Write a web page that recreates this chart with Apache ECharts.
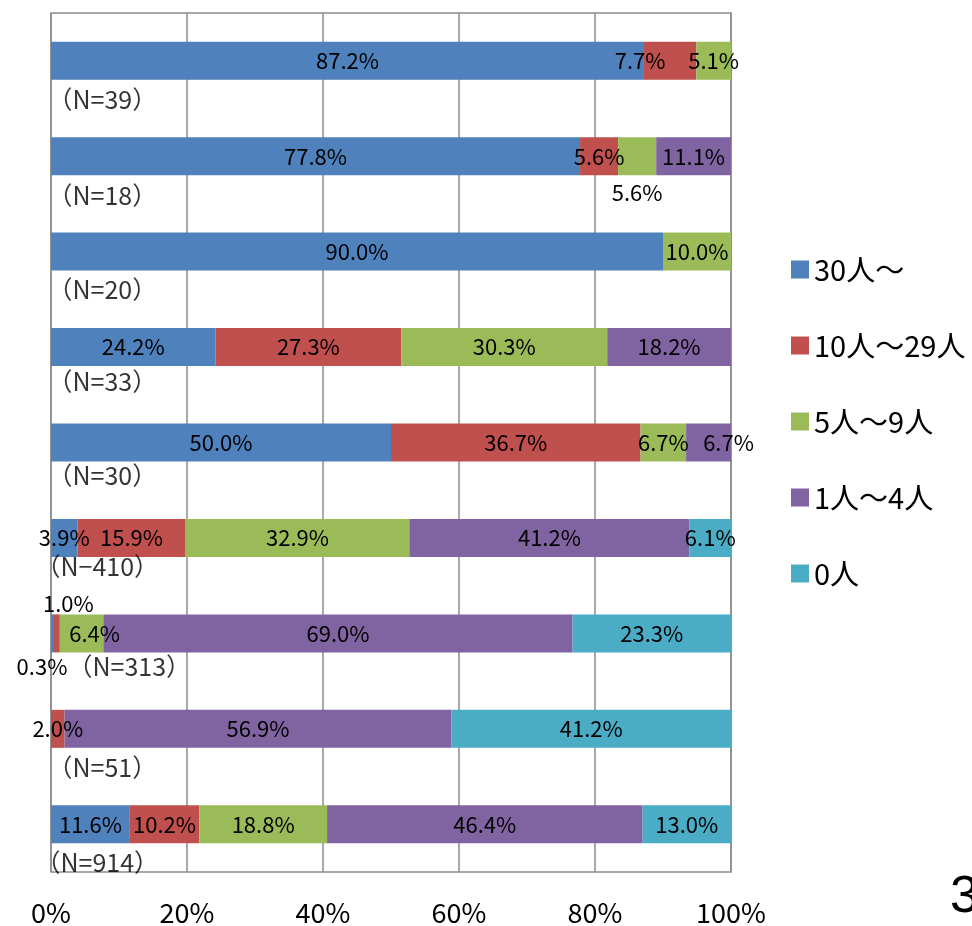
<!DOCTYPE html>
<html>
<head>
<meta charset="utf-8">
<script src="https://cdn.jsdelivr.net/npm/echarts@6/dist/echarts.min.js"></script>
<style>html,body{margin:0;padding:0;background:#fff;}#c{width:972px;height:926px;}</style>
</head>
<body>
<div id="c"></div>
<script>
// ---- data ----
const categories = ['（N=39）','（N=18）','（N=20）','（N=33）','（N=30）','（N−410）','（N=313）','（N=51）','（N=914）'];
const seriesNames = ['30人～','10人～29人','5人～9人','1人～4人','0人'];
const v30   = [87.2, 77.8, 90.0, 24.2, 50.0, 3.9, 0.3, 0, 11.6];
const v10_29 = [7.7, 5.6, 0, 27.3, 36.7, 15.9, 1.0, 2.0, 10.2];
const v5_9  = [5.1, 5.6, 10.0, 30.3, 6.7, 32.9, 6.4, 0, 18.8];
const v1_4  = [0, 11.1, 0, 18.2, 6.7, 41.2, 69.0, 56.9, 46.4];
const v0    = [0, 0, 0, 0, 0, 6.1, 23.3, 41.2, 13.0];
const xTicks = [0, 20, 40, 60, 80, 100];

// ---- layout (not data) ----
const colors = ['#4F81BD','#C0504D','#9BBB59','#8064A2','#4BACC6'];
const valueLabelNudges = { '1,0':[-30,0], '2,1':[0,36], '3,4':[20,0], '0,6':[-10,33], '1,6':[12,-30], '2,6':[13,0] };
const nLabelNudges = [[-4,39],[-4,39],[-4,38],[-4,34],[-4,33],[-16,29],[16,33],[-4,39],[-16,38]];

const FONT = "'Noto Sans CJK JP','Noto Sans',sans-serif";
const allValues = [v30, v10_29, v5_9, v1_4, v0];

const barSeries = allValues.map((vals, si) => ({
  name: seriesNames[si],
  type: 'bar',
  stack: 'total',
  barWidth: 38,
  itemStyle: { color: colors[si] },
  label: {
    show: true, position: 'inside', color: '#000', fontSize: 22, fontFamily: FONT,
    formatter: p => (p.value ? p.value.toFixed(1) + '%' : '')
  },
  data: vals.map((v, ri) => {
    const n = valueLabelNudges[si + ',' + ri];
    return n ? { value: v, label: { offset: n } } : v;
  })
}));

const nLabelSeries = {
  type: 'scatter',
  symbolSize: 1,
  itemStyle: { color: 'rgba(0,0,0,0)' },
  silent: true,
  z: 5,
  label: {
    show: true, position: 'right', distance: 0, color: '#000', fontSize: 25, fontFamily: FONT,
    formatter: p => categories[p.dataIndex]
  },
  labelLayout: p => ({ dx: nLabelNudges[p.dataIndex][0], dy: nLabelNudges[p.dataIndex][1], hideOverlap: false }),
  data: categories.map((c, i) => [0, i])
};

const chart = echarts.init(document.getElementById('c'));
chart.setOption({
  animation: false,
  grid: { left: 51, right: 241, top: 13, bottom: 46, show: true, borderColor: '#8c8c8c', borderWidth: 1.5 },
  legend: {
    orient: 'vertical', left: 786, top: 249,
    data: seriesNames, icon: 'rect', itemWidth: 18, itemHeight: 18, itemGap: 45,
    textStyle: { fontSize: 29, color: '#000', fontFamily: FONT, lineHeight: 31 }
  },
  xAxis: {
    type: 'value', min: xTicks[0], max: xTicks[xTicks.length - 1], interval: 20,
    axisLine: { show: false }, axisTick: { show: false },
    splitLine: { show: true, lineStyle: { color: '#8c8c8c', width: 1.5 } },
    axisLabel: { formatter: v => v + '%', fontSize: 27, color: '#000', fontFamily: FONT, margin: 27 }
  },
  yAxis: {
    type: 'category', data: categories, inverse: true,
    axisLine: { show: false }, axisTick: { show: false }, axisLabel: { show: false },
    splitLine: { show: false }
  },
  graphic: [{ type: 'text', left: 950, top: 872, style: { text: '3', fontSize: 52, fill: '#000', font: '52px ' + FONT } }],
  series: barSeries.concat([nLabelSeries])
});
</script>
</body>
</html>
